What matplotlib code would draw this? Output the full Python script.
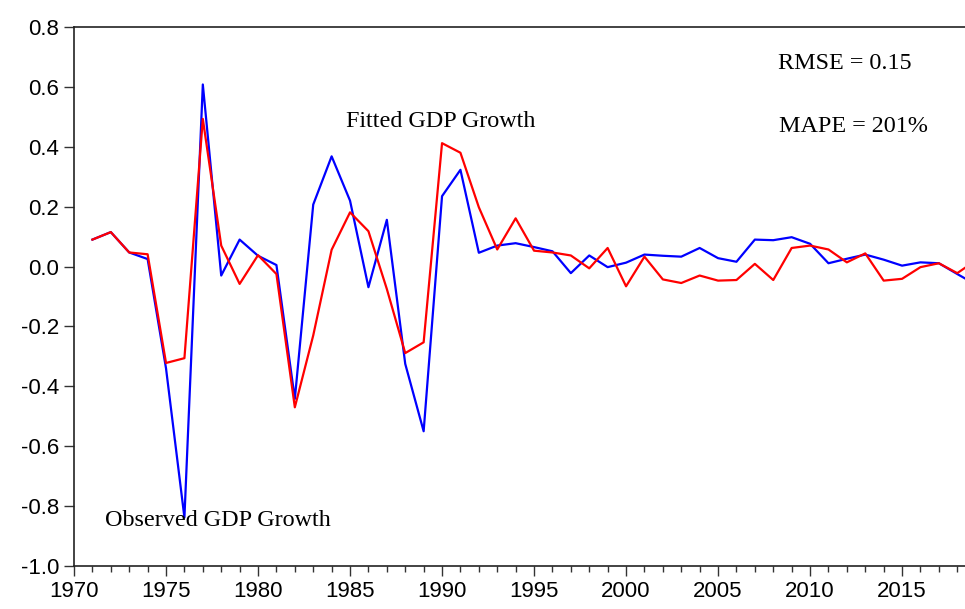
import matplotlib
matplotlib.use("Agg")
import matplotlib.pyplot as plt
from matplotlib.ticker import MultipleLocator

# Anos e séries
years = list(range(1971, 2020))

observed = [0.090, 0.115, 0.047, 0.025, -0.340, -0.838, 0.608, -0.030, 0.090, 0.036,
            0.005, -0.442, 0.207, 0.368, 0.220, -0.069, 0.156, -0.325, -0.550, 0.235,
            0.323, 0.046, 0.070, 0.078, 0.065, 0.051, -0.022, 0.037, -0.002, 0.013,
            0.040, 0.036, 0.033, 0.062, 0.028, 0.016, 0.090, 0.088, 0.098, 0.076,
            0.011, 0.026, 0.040, 0.023, 0.003, 0.014, 0.011, -0.025, -0.060]

fitted = [0.090, 0.115, 0.047, 0.041, -0.322, -0.306, 0.493, 0.070, -0.058, 0.038,
          -0.025, -0.470, -0.230, 0.056, 0.181, 0.118, -0.075, -0.289, -0.253, 0.412,
          0.380, 0.198, 0.057, 0.161, 0.053, 0.047, 0.037, -0.006, 0.062, -0.066,
          0.033, -0.043, -0.055, -0.030, -0.047, -0.045, 0.009, -0.045, 0.062, 0.070,
          0.057, 0.014, 0.044, -0.047, -0.041, -0.002, 0.011, -0.022, 0.020]

y_ticks = [-1.0, -0.8, -0.6, -0.4, -0.2, 0.0, 0.2, 0.4, 0.6, 0.8]
x_ticks = [1970, 1975, 1980, 1985, 1990, 1995, 2000, 2005, 2010, 2015]

serif = "Liberation Serif"
sans = "Liberation Sans"

fig = plt.figure(figsize=(9.65, 6.09), dpi=100)
ax = fig.add_axes([0.0767, 0.0706, 0.9233, 0.8851])

ax.plot(years, observed, color="#0000ff", linewidth=1.6)
ax.plot(years, fitted, color="#ff0000", linewidth=1.6)

ax.set_xlim(1970, 2018.42)
ax.set_ylim(-1.0, 0.8)

ax.set_xticks(x_ticks)
ax.xaxis.set_minor_locator(MultipleLocator(1))
ax.set_yticks(y_ticks)
ax.set_yticklabels([f"{v:.1f}" for v in y_ticks])

ax.tick_params(axis="both", which="major", direction="out", length=7, width=1,
               labelsize=16, color="#333333")
ax.tick_params(axis="x", which="minor", direction="out", length=4, width=1, color="#333333")
for lab in ax.get_xticklabels() + ax.get_yticklabels():
    lab.set_fontfamily(sans)

ax.spines["right"].set_visible(False)
for s in ["left", "bottom", "top"]:
    ax.spines[s].set_linewidth(1.2)
    ax.spines[s].set_color("#222222")

# Anotações em texto
ax.text(1989.92, 0.484, "Fitted GDP Growth", fontfamily=serif, fontsize=17.4,
        ha="center", va="center")
ax.text(1977.83, -0.848, "Observed GDP Growth", fontfamily=serif, fontsize=17.4,
        ha="center", va="center")
ax.text(2008.26, 0.678, "RMSE = 0.15", fontfamily=serif, fontsize=17.4,
        ha="left", va="center")
ax.text(2008.3, 0.467, "MAPE = 201%", fontfamily=serif, fontsize=17.4,
        ha="left", va="center")

fig.savefig("out.png", dpi=100)
